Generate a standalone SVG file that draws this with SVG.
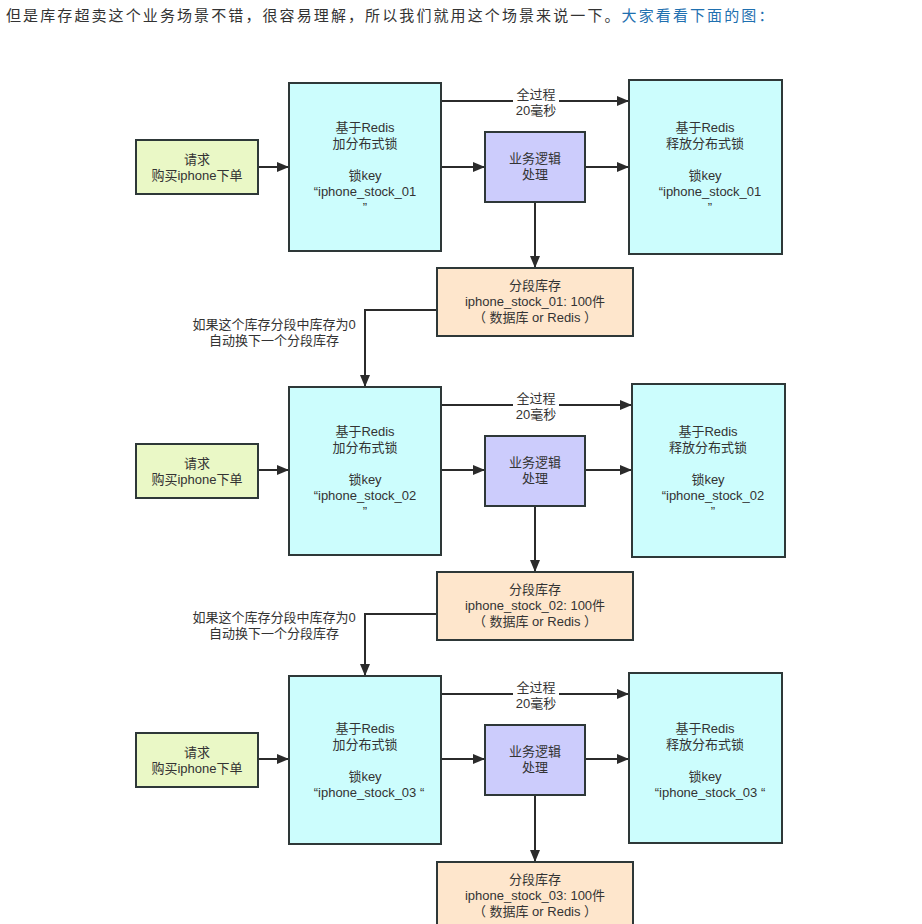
<svg xmlns="http://www.w3.org/2000/svg" width="922" height="924" viewBox="0 0 922 924">
<defs>
<marker id="ah" markerWidth="12" markerHeight="10" refX="11" refY="5" orient="auto" markerUnits="userSpaceOnUse">
<path d="M0,0 L12,5 L0,10 Z" fill="#2b2b2b"/>
</marker>
<style>
.t{font-family:"Liberation Sans","Noto Sans CJK SC",sans-serif;font-size:13px;fill:#333;text-anchor:middle}
.b{stroke:#2e3838;stroke-width:2}
.req{fill:#eaf8c6}
.lock{fill:#ccfdfd}
.biz{fill:#ccccfc}
.stk{fill:#fee6cc}
.c{fill:none;stroke:#2b2b2b;stroke-width:2;marker-end:url(#ah)}
.title{font-family:"Noto Sans CJK SC",sans-serif;font-size:15px;fill:#333;letter-spacing:2.1px}
</style>
</defs>
<rect width="922" height="924" fill="#fff"/>
<text class="title" x="6" y="21">但是库存超卖这个业务场景不错，很容易理解，所以我们就用这个场景来说一下。<tspan fill="#1f70b0">大家看看下面的图：</tspan></text>

<g id="connectors">
<path class="c" d="M258,167 H288"/>
<path class="c" d="M441,167 H484"/>
<path class="c" d="M585,167 H628"/>
<path class="c" d="M441,101 H628"/>
<path class="c" d="M535,202 V267"/>
<path class="c" d="M437,310 H365 V386"/>
<path class="c" d="M258,470 H288"/>
<path class="c" d="M441,470 H484"/>
<path class="c" d="M585,470 H631"/>
<path class="c" d="M441,405 H631"/>
<path class="c" d="M535,506 V571"/>
<path class="c" d="M437,614 H365 V675"/>
<path class="c" d="M258,759 H288"/>
<path class="c" d="M441,759 H484"/>
<path class="c" d="M585,759 H628"/>
<path class="c" d="M441,694 H628"/>
<path class="c" d="M535,795 V861"/>
</g>

<g id="labels">
<rect x="513" y="87" width="46" height="30" fill="#fff"/>
<text class="t" x="536" y="99">全过程</text>
<text class="t" x="536" y="115">20毫秒</text>
<rect x="513" y="391" width="46" height="30" fill="#fff"/>
<text class="t" x="536" y="403">全过程</text>
<text class="t" x="536" y="419">20毫秒</text>
<rect x="513" y="680" width="46" height="30" fill="#fff"/>
<text class="t" x="536" y="692">全过程</text>
<text class="t" x="536" y="708">20毫秒</text>
<text class="t" x="274" y="329">如果这个库存分段中库存为0</text>
<text class="t" x="274" y="345">自动换下一个分段库存</text>
<text class="t" x="274" y="622">如果这个库存分段中库存为0</text>
<text class="t" x="274" y="638">自动换下一个分段库存</text>
</g>

<g id="req1"><rect class="b req" x="136" y="140" width="122" height="54"/><text class="t" x="197" y="164">请求</text><text class="t" x="197" y="180">购买iphone下单</text></g>
<g id="lock1"><rect class="b lock" x="289" y="83" width="152" height="168"/><text class="t" x="365" y="132">基于Redis</text><text class="t" x="365" y="148">加分布式锁</text><text class="t" x="365" y="180">锁key</text><text class="t" x="365" y="196">“iphone_stock_01</text><text class="t" x="365" y="212">”</text></g>
<g id="biz1"><rect class="b biz" x="485" y="132" width="100" height="70"/><text class="t" x="535" y="163">业务逻辑</text><text class="t" x="535" y="179">处理</text></g>
<g id="rel1"><rect class="b lock" x="629" y="80" width="153" height="174"/><text class="t" x="705" y="132">基于Redis</text><text class="t" x="705" y="148">释放分布式锁</text><text class="t" x="705" y="180">锁key</text><text class="t" x="710" y="196">“iphone_stock_01</text><text class="t" x="710" y="212">”</text></g>
<g id="stock1"><rect class="b stk" x="437" y="268" width="196" height="68"/><text class="t" x="535" y="290">分段库存</text><text class="t" x="535" y="306">iphone_stock_01: 100件</text><text class="t" x="535" y="322">（ 数据库 or Redis ）</text></g>

<g id="req2"><rect class="b req" x="136" y="444" width="122" height="54"/><text class="t" x="197" y="468">请求</text><text class="t" x="197" y="484">购买iphone下单</text></g>
<g id="lock2"><rect class="b lock" x="289" y="387" width="152" height="168"/><text class="t" x="365" y="436">基于Redis</text><text class="t" x="365" y="452">加分布式锁</text><text class="t" x="365" y="484">锁key</text><text class="t" x="365" y="500">“iphone_stock_02</text><text class="t" x="365" y="516">”</text></g>
<g id="biz2"><rect class="b biz" x="485" y="436" width="100" height="70"/><text class="t" x="535" y="467">业务逻辑</text><text class="t" x="535" y="483">处理</text></g>
<g id="rel2"><rect class="b lock" x="632" y="384" width="153" height="173"/><text class="t" x="708" y="436">基于Redis</text><text class="t" x="708" y="452">释放分布式锁</text><text class="t" x="708" y="484">锁key</text><text class="t" x="713" y="500">“iphone_stock_02</text><text class="t" x="713" y="516">”</text></g>
<g id="stock2"><rect class="b stk" x="437" y="572" width="196" height="68"/><text class="t" x="535" y="594">分段库存</text><text class="t" x="535" y="610">iphone_stock_02: 100件</text><text class="t" x="535" y="626">（ 数据库 or Redis ）</text></g>

<g id="req3"><rect class="b req" x="136" y="733" width="122" height="54"/><text class="t" x="197" y="757">请求</text><text class="t" x="197" y="773">购买iphone下单</text></g>
<g id="lock3"><rect class="b lock" x="289" y="676" width="152" height="168"/><text class="t" x="365" y="733">基于Redis</text><text class="t" x="365" y="749">加分布式锁</text><text class="t" x="365" y="781">锁key</text><text class="t" x="369" y="797">“iphone_stock_03 “</text></g>
<g id="biz3"><rect class="b biz" x="485" y="725" width="100" height="70"/><text class="t" x="535" y="756">业务逻辑</text><text class="t" x="535" y="772">处理</text></g>
<g id="rel3"><rect class="b lock" x="629" y="673" width="153" height="170"/><text class="t" x="705" y="733">基于Redis</text><text class="t" x="705" y="749">释放分布式锁</text><text class="t" x="705" y="781">锁key</text><text class="t" x="710" y="797">“iphone_stock_03 “</text></g>
<g id="stock3"><rect class="b stk" x="437" y="862" width="196" height="70"/><text class="t" x="535" y="884">分段库存</text><text class="t" x="535" y="900">iphone_stock_03: 100件</text><text class="t" x="535" y="916">（ 数据库 or Redis ）</text></g>
</svg>
